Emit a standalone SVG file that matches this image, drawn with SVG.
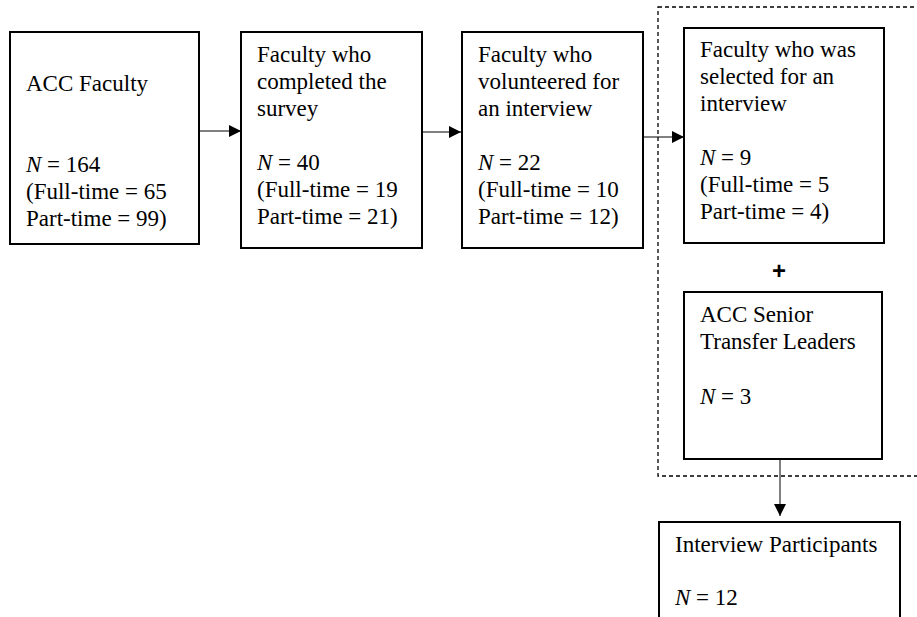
<svg xmlns="http://www.w3.org/2000/svg" width="917" height="617" viewBox="0 0 917 617">
<style>
.box{fill:#fff;stroke:#000;stroke-width:2}
.t{font-family:"Liberation Serif","Times New Roman",serif;font-size:23px;fill:#000}
.i{font-style:italic}
.c{stroke:#000;stroke-width:1;fill:none}
</style>
<defs>
<marker id="ah" viewBox="0 0 10 10" refX="10" refY="5" markerWidth="12" markerHeight="12" markerUnits="userSpaceOnUse" orient="auto">
<path d="M0,0 L10,5 L0,10 Z" fill="#000"/>
</marker>
</defs>
<rect width="917" height="617" fill="#fff"/>
<g id="group">
<rect x="658" y="7" width="270" height="469" fill="none" stroke="#000" stroke-width="1.3" stroke-dasharray="4,3"/>
</g>
<g id="connectors">
<line class="c" x1="199" y1="131" x2="241" y2="131" marker-end="url(#ah)"/>
<line class="c" x1="422" y1="132" x2="461" y2="132" marker-end="url(#ah)"/>
<line class="c" x1="643" y1="137" x2="684" y2="137" marker-end="url(#ah)"/>
<line class="c" x1="780" y1="459" x2="780" y2="516" marker-end="url(#ah)"/>
</g>
<g id="n1">
<rect class="box" x="10" y="32" width="189" height="212"/>
<text class="t" x="26" y="91">ACC Faculty</text>
<text class="t" x="26" y="172"><tspan class="i">N</tspan> = 164</text>
<text class="t" x="26" y="199">(Full-time = 65</text>
<text class="t" x="26" y="226">Part-time = 99)</text>
</g>
<g id="n2">
<rect class="box" x="241" y="32" width="181" height="216"/>
<text class="t" x="257" y="62">Faculty who</text>
<text class="t" x="257" y="89">completed the</text>
<text class="t" x="257" y="116">survey</text>
<text class="t" x="257" y="170"><tspan class="i">N</tspan> = 40</text>
<text class="t" x="257" y="197">(Full-time = 19</text>
<text class="t" x="257" y="224">Part-time = 21)</text>
</g>
<g id="n3">
<rect class="box" x="462" y="32" width="181" height="216"/>
<text class="t" x="478" y="62">Faculty who</text>
<text class="t" x="478" y="89">volunteered for</text>
<text class="t" x="478" y="116">an interview</text>
<text class="t" x="478" y="170"><tspan class="i">N</tspan> = 22</text>
<text class="t" x="478" y="197">(Full-time = 10</text>
<text class="t" x="478" y="224">Part-time = 12)</text>
</g>
<g id="n4">
<rect class="box" x="684" y="28" width="200" height="215"/>
<text class="t" x="700" y="57">Faculty who was</text>
<text class="t" x="700" y="84">selected for an</text>
<text class="t" x="700" y="111">interview</text>
<text class="t" x="700" y="165"><tspan class="i">N</tspan> = 9</text>
<text class="t" x="700" y="192">(Full-time = 5</text>
<text class="t" x="700" y="219">Part-time = 4)</text>
</g>
<g id="plus">
<text x="779" y="279" text-anchor="middle" font-family="Liberation Sans, Arial, sans-serif" font-size="24" font-weight="bold">+</text>
</g>
<g id="n5">
<rect class="box" x="684" y="292" width="198" height="167"/>
<text class="t" x="700" y="322">ACC Senior</text>
<text class="t" x="700" y="349">Transfer Leaders</text>
<text class="t" x="700" y="404"><tspan class="i">N</tspan> = 3</text>
</g>
<g id="n6">
<rect class="box" x="659" y="522" width="241" height="110"/>
<text class="t" x="675" y="552">Interview Participants</text>
<text class="t" x="675" y="605"><tspan class="i">N</tspan> = 12</text>
</g>
</svg>
